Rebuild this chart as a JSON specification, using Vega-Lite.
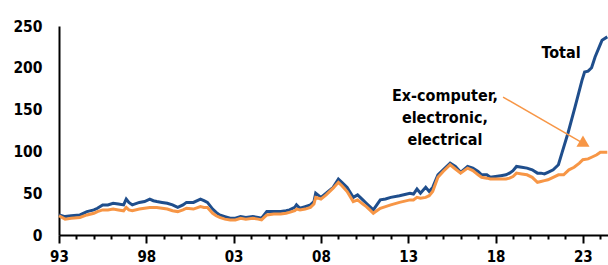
{
  "$schema": "https://vega.github.io/schema/vega-lite/v6.json",
  "width": 549,
  "height": 209,
  "autosize": "none",
  "padding": {"left": 59, "top": 26, "right": 0, "bottom": 30},
  "background": "white",
  "config": {"view": {"stroke": null}},
  "datasets": {
    "series": [
      {"d":1993.0,"s":"Total","v":24},{"d":1993.35,"s":"Total","v":22},{"d":1993.7,"s":"Total","v":23},{"d":1994.2,"s":"Total","v":24},{"d":1994.6,"s":"Total","v":28},{"d":1995.0,"s":"Total","v":30},{"d":1995.2,"s":"Total","v":32},{"d":1995.5,"s":"Total","v":36},{"d":1995.8,"s":"Total","v":36},{"d":1996.1,"s":"Total","v":38},{"d":1996.4,"s":"Total","v":37},{"d":1996.7,"s":"Total","v":36},{"d":1996.85,"s":"Total","v":43},{"d":1997.0,"s":"Total","v":39},{"d":1997.2,"s":"Total","v":36},{"d":1997.6,"s":"Total","v":39},{"d":1997.9,"s":"Total","v":40},{"d":1998.2,"s":"Total","v":43},{"d":1998.4,"s":"Total","v":41},{"d":1998.6,"s":"Total","v":40},{"d":1998.9,"s":"Total","v":39},{"d":1999.2,"s":"Total","v":38},{"d":1999.5,"s":"Total","v":36},{"d":1999.8,"s":"Total","v":33},{"d":2000.1,"s":"Total","v":36},{"d":2000.3,"s":"Total","v":39},{"d":2000.7,"s":"Total","v":39},{"d":2001.1,"s":"Total","v":43},{"d":2001.3,"s":"Total","v":41},{"d":2001.5,"s":"Total","v":39},{"d":2001.8,"s":"Total","v":31},{"d":2002.0,"s":"Total","v":27},{"d":2002.2,"s":"Total","v":24},{"d":2002.5,"s":"Total","v":22},{"d":2002.8,"s":"Total","v":20},{"d":2003.1,"s":"Total","v":20},{"d":2003.4,"s":"Total","v":22},{"d":2003.7,"s":"Total","v":21},{"d":2004.1,"s":"Total","v":22},{"d":2004.4,"s":"Total","v":21},{"d":2004.6,"s":"Total","v":20},{"d":2004.9,"s":"Total","v":28},{"d":2005.3,"s":"Total","v":28},{"d":2005.7,"s":"Total","v":28},{"d":2006.0,"s":"Total","v":29},{"d":2006.2,"s":"Total","v":30},{"d":2006.5,"s":"Total","v":33},{"d":2006.6,"s":"Total","v":36},{"d":2006.8,"s":"Total","v":32},{"d":2007.1,"s":"Total","v":34},{"d":2007.4,"s":"Total","v":36},{"d":2007.6,"s":"Total","v":40},{"d":2007.7,"s":"Total","v":50},{"d":2008.0,"s":"Total","v":45},{"d":2008.3,"s":"Total","v":50},{"d":2008.7,"s":"Total","v":57},{"d":2009.0,"s":"Total","v":67},{"d":2009.2,"s":"Total","v":63},{"d":2009.5,"s":"Total","v":57},{"d":2009.85,"s":"Total","v":45},{"d":2010.1,"s":"Total","v":48},{"d":2010.4,"s":"Total","v":42},{"d":2010.6,"s":"Total","v":38},{"d":2010.8,"s":"Total","v":34},{"d":2011.0,"s":"Total","v":30},{"d":2011.2,"s":"Total","v":36},{"d":2011.4,"s":"Total","v":42},{"d":2011.7,"s":"Total","v":43},{"d":2012.0,"s":"Total","v":45},{"d":2012.5,"s":"Total","v":47},{"d":2013.1,"s":"Total","v":50},{"d":2013.3,"s":"Total","v":49},{"d":2013.5,"s":"Total","v":55},{"d":2013.7,"s":"Total","v":50},{"d":2014.0,"s":"Total","v":57},{"d":2014.2,"s":"Total","v":52},{"d":2014.4,"s":"Total","v":57},{"d":2014.7,"s":"Total","v":72},{"d":2015.0,"s":"Total","v":78},{"d":2015.4,"s":"Total","v":86},{"d":2015.7,"s":"Total","v":82},{"d":2016.0,"s":"Total","v":75},{"d":2016.4,"s":"Total","v":82},{"d":2016.7,"s":"Total","v":80},{"d":2017.0,"s":"Total","v":76},{"d":2017.2,"s":"Total","v":72},{"d":2017.5,"s":"Total","v":72},{"d":2017.7,"s":"Total","v":69},{"d":2018.0,"s":"Total","v":70},{"d":2018.3,"s":"Total","v":71},{"d":2018.6,"s":"Total","v":72},{"d":2018.8,"s":"Total","v":74},{"d":2019.0,"s":"Total","v":77},{"d":2019.2,"s":"Total","v":82},{"d":2019.5,"s":"Total","v":81},{"d":2019.8,"s":"Total","v":80},{"d":2020.1,"s":"Total","v":78},{"d":2020.4,"s":"Total","v":74},{"d":2020.6,"s":"Total","v":74},{"d":2020.8,"s":"Total","v":73},{"d":2021.0,"s":"Total","v":75},{"d":2021.3,"s":"Total","v":78},{"d":2021.6,"s":"Total","v":84},{"d":2021.8,"s":"Total","v":98},{"d":2022.15,"s":"Total","v":122},{"d":2022.55,"s":"Total","v":153},{"d":2022.95,"s":"Total","v":185},{"d":2023.1,"s":"Total","v":195},{"d":2023.3,"s":"Total","v":196},{"d":2023.5,"s":"Total","v":200},{"d":2023.7,"s":"Total","v":213},{"d":2024.0,"s":"Total","v":228},{"d":2024.1,"s":"Total","v":233},{"d":2024.4,"s":"Total","v":237},
      {"d":1993.0,"s":"Ex","v":23},{"d":1993.35,"s":"Ex","v":19},{"d":1993.7,"s":"Ex","v":20},{"d":1994.2,"s":"Ex","v":21},{"d":1994.6,"s":"Ex","v":24},{"d":1995.0,"s":"Ex","v":26},{"d":1995.2,"s":"Ex","v":28},{"d":1995.5,"s":"Ex","v":30},{"d":1995.8,"s":"Ex","v":30},{"d":1996.1,"s":"Ex","v":31},{"d":1996.4,"s":"Ex","v":30},{"d":1996.7,"s":"Ex","v":29},{"d":1996.85,"s":"Ex","v":33},{"d":1997.0,"s":"Ex","v":30},{"d":1997.2,"s":"Ex","v":29},{"d":1997.6,"s":"Ex","v":31},{"d":1997.9,"s":"Ex","v":32},{"d":1998.2,"s":"Ex","v":33},{"d":1998.4,"s":"Ex","v":33},{"d":1998.6,"s":"Ex","v":33},{"d":1998.9,"s":"Ex","v":32},{"d":1999.2,"s":"Ex","v":31},{"d":1999.5,"s":"Ex","v":29},{"d":1999.8,"s":"Ex","v":28},{"d":2000.1,"s":"Ex","v":30},{"d":2000.3,"s":"Ex","v":32},{"d":2000.7,"s":"Ex","v":31},{"d":2001.1,"s":"Ex","v":34},{"d":2001.3,"s":"Ex","v":33},{"d":2001.5,"s":"Ex","v":33},{"d":2001.8,"s":"Ex","v":26},{"d":2002.0,"s":"Ex","v":23},{"d":2002.2,"s":"Ex","v":21},{"d":2002.5,"s":"Ex","v":19},{"d":2002.8,"s":"Ex","v":18},{"d":2003.1,"s":"Ex","v":18},{"d":2003.4,"s":"Ex","v":20},{"d":2003.7,"s":"Ex","v":19},{"d":2004.1,"s":"Ex","v":20},{"d":2004.4,"s":"Ex","v":19},{"d":2004.6,"s":"Ex","v":18},{"d":2004.9,"s":"Ex","v":24},{"d":2005.3,"s":"Ex","v":25},{"d":2005.7,"s":"Ex","v":25},{"d":2006.0,"s":"Ex","v":26},{"d":2006.2,"s":"Ex","v":27},{"d":2006.5,"s":"Ex","v":29},{"d":2006.6,"s":"Ex","v":31},{"d":2006.8,"s":"Ex","v":30},{"d":2007.1,"s":"Ex","v":31},{"d":2007.4,"s":"Ex","v":33},{"d":2007.6,"s":"Ex","v":37},{"d":2007.7,"s":"Ex","v":45},{"d":2008.0,"s":"Ex","v":43},{"d":2008.3,"s":"Ex","v":48},{"d":2008.7,"s":"Ex","v":56},{"d":2009.0,"s":"Ex","v":63},{"d":2009.2,"s":"Ex","v":59},{"d":2009.5,"s":"Ex","v":52},{"d":2009.85,"s":"Ex","v":40},{"d":2010.1,"s":"Ex","v":42},{"d":2010.4,"s":"Ex","v":37},{"d":2010.6,"s":"Ex","v":34},{"d":2010.8,"s":"Ex","v":30},{"d":2011.0,"s":"Ex","v":26},{"d":2011.2,"s":"Ex","v":29},{"d":2011.4,"s":"Ex","v":32},{"d":2011.7,"s":"Ex","v":34},{"d":2012.0,"s":"Ex","v":36},{"d":2012.5,"s":"Ex","v":39},{"d":2013.1,"s":"Ex","v":42},{"d":2013.3,"s":"Ex","v":42},{"d":2013.5,"s":"Ex","v":45},{"d":2013.7,"s":"Ex","v":44},{"d":2014.0,"s":"Ex","v":45},{"d":2014.2,"s":"Ex","v":47},{"d":2014.4,"s":"Ex","v":52},{"d":2014.7,"s":"Ex","v":69},{"d":2015.0,"s":"Ex","v":76},{"d":2015.4,"s":"Ex","v":84},{"d":2015.7,"s":"Ex","v":79},{"d":2016.0,"s":"Ex","v":74},{"d":2016.4,"s":"Ex","v":80},{"d":2016.7,"s":"Ex","v":77},{"d":2017.0,"s":"Ex","v":72},{"d":2017.2,"s":"Ex","v":69},{"d":2017.5,"s":"Ex","v":68},{"d":2017.7,"s":"Ex","v":67},{"d":2018.0,"s":"Ex","v":67},{"d":2018.3,"s":"Ex","v":67},{"d":2018.6,"s":"Ex","v":67},{"d":2018.8,"s":"Ex","v":68},{"d":2019.0,"s":"Ex","v":70},{"d":2019.2,"s":"Ex","v":74},{"d":2019.5,"s":"Ex","v":73},{"d":2019.8,"s":"Ex","v":72},{"d":2020.1,"s":"Ex","v":69},{"d":2020.4,"s":"Ex","v":63},{"d":2020.6,"s":"Ex","v":64},{"d":2020.8,"s":"Ex","v":65},{"d":2021.0,"s":"Ex","v":66},{"d":2021.3,"s":"Ex","v":69},{"d":2021.6,"s":"Ex","v":72},{"d":2021.9,"s":"Ex","v":72},{"d":2022.2,"s":"Ex","v":78},{"d":2022.5,"s":"Ex","v":81},{"d":2022.8,"s":"Ex","v":86},{"d":2023.0,"s":"Ex","v":90},{"d":2023.3,"s":"Ex","v":91},{"d":2023.5,"s":"Ex","v":93},{"d":2023.8,"s":"Ex","v":96},{"d":2024.0,"s":"Ex","v":99},{"d":2024.4,"s":"Ex","v":99}
    ],
    "labels": [
      {"d": 2021.75, "v": 218, "t": "Total"},
      {"d": 2015.1, "v": 166, "t": "Ex-computer,\nelectronic,\nelectrical"}
    ],
    "arrow": [
      {"d": 2018.43, "v": 165},
      {"d": 2023.0, "v": 110}
    ],
    "head": [
      {"d": 2023.1, "v": 109}
    ]
  },
  "encoding": {
    "x": {
      "field": "d", "type": "quantitative",
      "scale": {"domain": [1993, 2024.44], "nice": false, "zero": false},
      "axis": {
        "title": null,
        "values": [1993,1994,1995,1996,1997,1998,1999,2000,2001,2002,2003,2004,2005,2006,2007,2008,2009,2010,2011,2012,2013,2014,2015,2016,2017,2018,2019,2020,2021,2022,2023,2024],
        "labelExpr": "(datum.value - 1993) % 5 == 0 ? substring(toString(datum.value), 2) : ''",
        "grid": false,
        "domainColor": "black", "domainWidth": 2,
        "tickColor": "black", "tickWidth": 2,
        "tickSize": {"condition": {"test": "(datum.value - 1993) % 5 == 0", "value": 8}, "value": 4},
        "labelFont": "Liberation Sans Narrow, DejaVu Sans Condensed, Liberation Sans, sans-serif", "labelFontWeight": "bold", "labelFontSize": 15, "labelColor": "black",
        "labelPadding": 6, "labelFlush": false, "labelOverlap": false
      }
    },
    "y": {
      "field": "v", "type": "quantitative",
      "scale": {"domain": [0, 250], "nice": false},
      "axis": {
        "title": null, "values": [0,50,100,150,200,250], "grid": false,
        "domainColor": "black", "domainWidth": 2, "ticks": false,
        "labelFont": "Liberation Sans Narrow, DejaVu Sans Condensed, Liberation Sans, sans-serif", "labelFontWeight": "bold", "labelFontSize": 15.5, "labelColor": "black",
        "labelPadding": 17
      }
    }
  },
  "layer": [
    {
      "data": {"name": "series"},
      "mark": {"type": "line", "strokeWidth": 3, "interpolate": "linear"},
      "encoding": {
        "color": {"field": "s", "type": "nominal", "scale": {"domain": ["Total", "Ex"], "range": ["#1F4E8C", "#F79646"]}, "legend": null},
        "order": {"field": "d", "type": "quantitative"},
        "detail": {"field": "s"}
      }
    },
    {
      "data": {"name": "arrow"},
      "mark": {"type": "line", "color": "#F79646", "strokeWidth": 1.5},
      "encoding": {}
    },
    {
      "data": {"name": "head"},
      "mark": {"type": "point", "shape": "triangle-up", "filled": true, "color": "#F79646", "opacity": 1, "size": 170, "angle": 120},
      "encoding": {}
    },
    {
      "data": {"name": "labels"},
      "mark": {"type": "text", "font": "Liberation Sans Narrow, DejaVu Sans Condensed, Liberation Sans, sans-serif", "fontWeight": "bold", "fontSize": 16, "color": "black", "align": "center", "baseline": "middle", "lineBreak": "\n", "lineHeight": 22},
      "encoding": {"text": {"field": "t"}}
    }
  ]
}
